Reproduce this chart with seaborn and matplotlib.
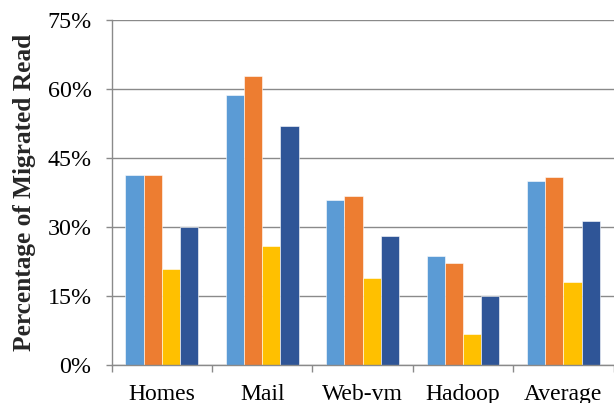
import matplotlib
matplotlib.use("Agg")
import matplotlib.pyplot as plt
import seaborn as sns
import pandas as pd
from matplotlib.ticker import PercentFormatter, FixedLocator

categories = ["Homes", "Mail", "Web-vm", "Hadoop", "Average"]
series_names = ["Series 1", "Series 2", "Series 3", "Series 4"]
s1 = [41.3, 58.8, 35.9, 23.7, 39.9]
s2 = [41.3, 62.8, 36.8, 22.1, 40.8]
s3 = [20.9, 25.9, 18.9, 6.8, 18.1]
s4 = [30.0, 51.9, 28.0, 15.0, 31.2]
y_ticks = [0, 15, 30, 45, 60, 75]
colors = ["#5B9BD5", "#ED7D31", "#FFC000", "#2F5597"]

rows = []
for name, vals in zip(series_names, [s1, s2, s3, s4]):
    for c, v in zip(categories, vals):
        rows.append({"cat": c, "series": name, "val": v})
df = pd.DataFrame(rows)

sns.set_style("white")
plt.rcParams["font.family"] = ["Liberation Serif", "DejaVu Serif"]

fig = plt.figure(figsize=(6.14, 4.03), dpi=100)
ax = fig.add_axes([0.1819, 0.0943, 0.8173, 0.8561])

sns.barplot(data=df, x="cat", y="val", hue="series", order=categories,
            hue_order=series_names, palette=colors, width=0.725,
            edgecolor="white", linewidth=0.4, legend=False, ax=ax,
            saturation=1, errorbar=None)

grid_c = "#8A8A8A"
ax.set_ylim(0, 75)
ax.set_xlim(-0.5, 4.5)
ax.set_yticks(y_ticks)
ax.yaxis.set_major_formatter(PercentFormatter(100, decimals=0))
ax.yaxis.grid(True, color=grid_c, linewidth=1.0)
ax.set_axisbelow(True)

for s in ["top", "right"]:
    ax.spines[s].set_visible(False)
for s in ["left", "bottom"]:
    ax.spines[s].set_color(grid_c)
    ax.spines[s].set_linewidth(1.0)

ax.tick_params(axis="y", which="major", left=True, length=4.5, width=1,
               color=grid_c, labelsize=17.3, pad=10, labelcolor="black")
ax.tick_params(axis="x", which="major", length=0, labelsize=17, pad=13.5,
               labelcolor="black")
ax.xaxis.set_minor_locator(FixedLocator([-0.5, 0.5, 1.5, 2.5, 3.5, 4.5]))
ax.tick_params(axis="x", which="minor", bottom=True, length=5, width=1,
               color=grid_c)

ax.set_xlabel("")
ax.set_ylabel("Percentage of Migrated Read", fontsize=18.3, fontweight="bold",
              labelpad=8)

fig.savefig("out.png", dpi=100)
